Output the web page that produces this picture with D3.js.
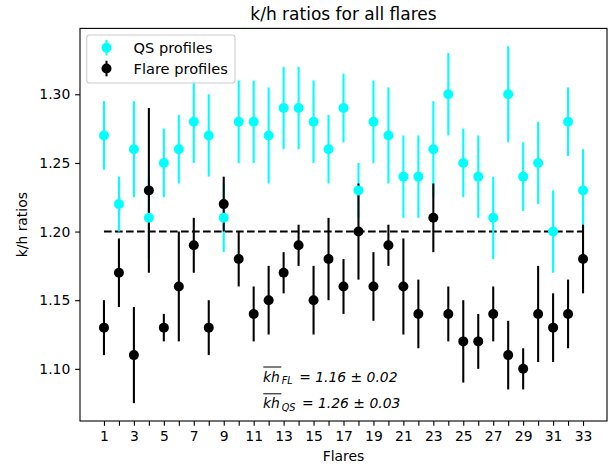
<!DOCTYPE html>
<html>
<head>
<meta charset="utf-8">
<script src="https://cdn.jsdelivr.net/npm/d3@7"></script>
<style>
  body { margin: 0; background: #fff; }
  svg { display: block; font-family: "DejaVu Sans", sans-serif; }
</style>
</head>
<body>
<svg id="chart" width="615" height="466"></svg>
<script>
// ---- data ----
const flares = d3.range(1, 34);
const qsValues = [1.27,1.22,1.26,1.21,1.25,1.26,1.28,1.27,1.21,1.28,1.28,1.27,1.29,1.29,1.28,1.26,1.29,1.23,1.28,1.27,1.24,1.24,1.26,1.30,1.25,1.24,1.21,1.30,1.24,1.25,1.20,1.28,1.23];
const qsErrors = [0.025,0.02,0.035,0.03,0.025,0.025,0.03,0.03,0.025,0.03,0.03,0.035,0.03,0.03,0.03,0.025,0.025,0.02,0.03,0.035,0.03,0.03,0.035,0.03,0.025,0.03,0.03,0.035,0.025,0.03,0.03,0.025,0.03];
const flValues = [1.13,1.17,1.11,1.23,1.13,1.16,1.19,1.13,1.22,1.18,1.14,1.15,1.17,1.19,1.15,1.18,1.16,1.20,1.16,1.19,1.16,1.14,1.21,1.14,1.12,1.12,1.14,1.11,1.10,1.14,1.13,1.14,1.18];
const flErrors = [0.02,0.025,0.035,0.06,0.01,0.04,0.02,0.02,0.02,0.02,0.02,0.025,0.015,0.015,0.025,0.03,0.02,0.035,0.025,0.015,0.035,0.025,0.025,0.02,0.03,0.02,0.02,0.025,0.015,0.035,0.025,0.025,0.025];
const yTicks = [1.10, 1.15, 1.20, 1.25, 1.30];
const refLevel = 1.20;
const seriesNames = ["QS profiles", "Flare profiles"];
const seriesColors = ["#00ffff", "#000000"];
const meanFL = "1.16 ± 0.02";
const meanQS = "1.26 ± 0.03";

// ---- layout ----
const L = 80, R = 607, T = 28.4, B = 421;
const svg = d3.select("#chart");
const x = d3.scaleLinear().domain([-0.6, 34.6]).range([L, R]);
const y = d3.scaleLinear().domain([1.062, 1.348]).range([B, T]);
const fs = 13.9;

const series = [
  { name: seriesNames[0], color: seriesColors[0], data: flares.map((f, i) => ({ f, v: qsValues[i], e: qsErrors[i] })) },
  { name: seriesNames[1], color: seriesColors[1], data: flares.map((f, i) => ({ f, v: flValues[i], e: flErrors[i] })) }
];

// title
svg.append("text").attr("x", (L + R) / 2).attr("y", 20).attr("text-anchor", "middle")
  .attr("font-size", 17).text("k/h ratios for all flares");

// dashed reference
svg.append("line")
  .attr("x1", x(1)).attr("x2", x(33)).attr("y1", y(refLevel)).attr("y2", y(refLevel))
  .attr("stroke", "#000").attr("stroke-width", 2.08).attr("stroke-dasharray", "7.7,3.3");

// error bars
series.forEach(s => {
  svg.append("g").selectAll("line").data(s.data).join("line")
    .attr("x1", d => x(d.f)).attr("x2", d => x(d.f))
    .attr("y1", d => y(d.v - d.e)).attr("y2", d => y(d.v + d.e))
    .attr("stroke", s.color).attr("stroke-width", 2.08);
});
// markers
series.forEach(s => {
  svg.append("g").selectAll("circle").data(s.data).join("circle")
    .attr("cx", d => x(d.f)).attr("cy", d => y(d.v)).attr("r", 5)
    .attr("fill", s.color);
});

// axes
const yAxis = svg.append("g").attr("transform", `translate(${L},0)`)
  .call(d3.axisLeft(y).tickValues(yTicks).tickFormat(d3.format(".2f")).tickSize(4.86).tickPadding(4.86));
const xAxis = svg.append("g").attr("transform", `translate(0,${B})`)
  .call(d3.axisBottom(x).tickValues(flares).tickFormat(d => d % 2 ? d : "").tickSize(4.86).tickPadding(4.86));
[yAxis, xAxis].forEach(g => {
  g.select(".domain").remove();
  g.selectAll("line").attr("stroke", "#000").attr("stroke-width", 1.1);
  g.selectAll("text").attr("font-size", fs).attr("font-family", "DejaVu Sans").attr("fill", "#000");
});

// frame
svg.append("rect").attr("x", L).attr("y", T).attr("width", R - L).attr("height", B - T)
  .attr("fill", "none").attr("stroke", "#000").attr("stroke-width", 1.1);

// axis labels
svg.append("text").attr("x", (L + R) / 2).attr("y", 461).attr("text-anchor", "middle")
  .attr("font-size", fs).text("Flares");
svg.append("text").attr("transform", `translate(27,${(T + B) / 2}) rotate(-90)`)
  .attr("text-anchor", "middle").attr("font-size", fs).text("k/h ratios");

// legend
const lg = svg.append("g");
lg.append("rect").attr("x", 86.7).attr("y", 35).attr("width", 148.3).attr("height", 48)
  .attr("rx", 2.8).attr("fill", "#fff").attr("fill-opacity", 0.8)
  .attr("stroke", "#cccccc").attr("stroke-width", 1.1);
series.forEach((s, i) => {
  const cy = 47.7 + i * 20.8;
  lg.append("line").attr("x1", 106.5).attr("x2", 106.5).attr("y1", cy - 7.8).attr("y2", cy + 7.8)
    .attr("stroke", s.color).attr("stroke-width", 2.08);
  lg.append("circle").attr("cx", 106.5).attr("cy", cy).attr("r", 5).attr("fill", s.color);
  lg.append("text").attr("x", 133.5).attr("y", cy + 5.1).attr("font-size", 14.6).text(s.name);
});

// annotations
function meanLabel(x0, base, sub, val) {
  const g = svg.append("g").attr("font-style", "italic").attr("fill", "#000");
  const t1 = g.append("text").attr("x", x0).attr("y", base).attr("font-size", fs).text("kh");
  const w1 = t1.node().getComputedTextLength();
  g.append("line").attr("x1", x0 + 0.3).attr("x2", x0 + w1 + 1.5)
    .attr("y1", base - 14.5).attr("y2", base - 14.5).attr("stroke", "#000").attr("stroke-width", 1);
  const t2 = g.append("text").attr("x", x0 + w1 + 1.8).attr("y", base + 2.5).attr("font-size", 9.7).text(sub);
  const w2 = t2.node().getComputedTextLength();
  g.append("text").attr("x", x0 + w1 + 1.8 + w2 + 6.5).attr("y", base).attr("font-size", fs).text("= " + val);
}
meanLabel(263, 381.5, "FL", meanFL);
meanLabel(263, 408.3, "QS", meanQS);
</script>
</body>
</html>
